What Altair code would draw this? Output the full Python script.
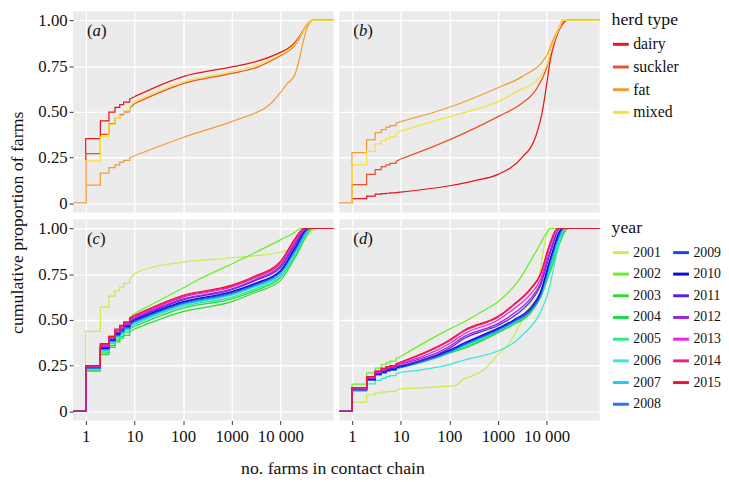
import altair as alt
import pandas as pd

# ---------------- data ----------------
XMIN, XMAX = 0.55, 123000          # panel limits (log axis)
STEP_X = [1, 2, 3, 4, 5, 6, 8]     # integer jumps of the ECDF at small x
X_TICKS = [1, 10, 100, 1000, 10000]
Y_TICKS = [0, 0.25, 0.5, 0.75, 1.0]

herd_types = ["dairy", "suckler", "fat", "mixed"]
herd_colors = ["#E4171E", "#EC5226", "#F19D33", "#F5E23C"]

years = [str(y) for y in range(2001, 2016)]
year_colors = ["#C6EE4C", "#6AEE24", "#30DC30", "#1EDA48", "#2EEA8A", "#34E8D4",
               "#22C8F0", "#2278EC", "#2244DC", "#0A0ADC", "#5A22DC", "#9C22DC",
               "#EC22DC", "#EC2288", "#EC1436"]

# panel (a): (steps, smooth x, smooth y)
a_dairy = ([.354, .451, .498, .525, .54, .553, .57],
           [10, 100, 1000, 3400, 10000, 15000, 20000, 25000, 30000, 37000, 45000],
           [.583, .693, .746, .777, .825, .85, .88, .915, .95, .985, 1.0])
a_suckler = ([.272, .377, .435, .465, .485, .50, .52],
             [10, 100, 1000, 3400, 10000, 15000, 20000, 25000, 30000, 37000, 45000],
             [.544, .654, .71, .745, .807, .835, .865, .905, .945, .985, 1.0])
a_fat = ([.10, .165, .195, .21, .225, .235, .248],
         [10, 100, 1000, 3400, 4600, 6300, 10000, 13700, 19600, 23600, 29000, 35000, 47000],
         [.26, .36, .447, .50, .517, .544, .605, .653, .70, .77, .877, .955, 1.0])
a_mixed = ([.232, .365, .43, .465, .49, .505, .525],
           [10, 100, 1000, 3400, 10000, 15000, 20000, 25000, 30000, 37000, 45000],
           [.556, .663, .72, .757, .813, .84, .87, .91, .947, .985, 1.0])

# panel (b)
b_dairy = ([.026, .039, .05, .053, .055, .057, .059],
           [10, 100, 320, 1000, 3000, 6000, 8000, 10000, 12000, 15000, 20000, 27000],
           [.061, .096, .123, .158, .246, .368, .49, .65, .79, .89, .97, 1.0])
b_suckler = ([.102, .158, .184, .20, .21, .218, .228],
             [10, 100, 1000, 3000, 6000, 10000, 13800, 18700, 25000],
             [.242, .347, .474, .544, .62, .74, .88, .965, 1.0])
b_fat = ([.277, .347, .386, .403, .417, .425, .437],
         [10, 100, 1000, 3000, 10000, 13800, 18700, 21000],
         [.447, .525, .632, .69, .807, .90, .97, 1.0])
b_mixed = ([.21, .284, .325, .342, .354, .363, .38],
           [10, 100, 1000, 3000, 6000, 10000, 13800, 18700, 22000],
           [.395, .474, .556, .623, .667, .754, .88, .965, 1.0])

# panel (c): by year
c_x = [10, 100, 1000, 3000, 10000, 20000]
c_steps = {
    "2003": [.22, .31, .35, .38, .40, .415, .435],
    "2004": [.225, .32, .36, .39, .41, .43, .45],
    "2005": [.23, .33, .37, .40, .42, .44, .46],
    "2006": [.23, .33, .375, .405, .425, .445, .465],
    "2007": [.235, .335, .38, .41, .43, .45, .47],
    "2008": [.235, .34, .385, .415, .435, .455, .475],
    "2009": [.24, .345, .39, .42, .44, .46, .48],
    "2010": [.24, .345, .39, .425, .445, .465, .485],
    "2011": [.24, .35, .395, .43, .45, .47, .49],
    "2012": [.245, .355, .40, .435, .455, .475, .495],
    "2013": [.245, .36, .405, .44, .46, .48, .50],
    "2014": [.25, .365, .41, .445, .465, .485, .505],
    "2015": [.25, .37, .41, .45, .47, .49, .51],
}
c_vals = {
    "2003": [.45, .545, .60, .65, .715, .84],
    "2004": [.465, .565, .615, .66, .73, .85],
    "2005": [.475, .575, .625, .67, .735, .855],
    "2006": [.48, .58, .635, .68, .74, .86],
    "2007": [.485, .585, .64, .685, .75, .87],
    "2008": [.49, .59, .645, .69, .76, .88],
    "2009": [.495, .595, .65, .695, .765, .89],
    "2010": [.50, .60, .655, .70, .77, .895],
    "2011": [.505, .61, .665, .715, .785, .91],
    "2012": [.51, .615, .67, .72, .795, .92],
    "2013": [.515, .625, .68, .73, .805, .93],
    "2014": [.52, .63, .685, .735, .815, .94],
    "2015": [.525, .635, .69, .74, .82, .945],
}
c_end = {"2003": 48000, "2004": 45000, "2005": 42000, "2006": 46000, "2007": 44000,
         "2008": 40000, "2009": 38000, "2010": 37000, "2011": 35000, "2012": 34000,
         "2013": 32000, "2014": 31000, "2015": 30000}
c_2001 = ([.437, .57, .63, .66, .68, .70, .72],
          [10, 20, 100, 1000, 10000, 18700, 30000, 40000, 55000],
          [.755, .784, .816, .84, .87, .893, .93, .97, 1.0])
c_2002 = ([.23, .34, .39, .43, .46, .48, .51],
          [10, 100, 200, 1000, 10000, 20000, 26000],
          [.535, .675, .718, .806, .938, .98, 1.0])

# panel (d)
d_x = [10, 100, 205, 1000, 2100, 4600, 7400, 11700]
d_steps = {
    "2003": [.13, .18, .21, .22, .227, .232, .24],
    "2004": [.125, .178, .207, .217, .225, .23, .237],
    "2005": [.12, .175, .205, .215, .222, .228, .235],
    "2007": [.115, .17, .20, .21, .22, .225, .235],
    "2008": [.115, .17, .20, .21, .22, .225, .235],
    "2009": [.12, .175, .205, .215, .225, .23, .24],
    "2010": [.12, .175, .205, .215, .225, .23, .24],
    "2011": [.12, .18, .21, .22, .23, .235, .245],
    "2012": [.125, .18, .21, .225, .235, .24, .25],
    "2013": [.125, .185, .215, .23, .24, .245, .255],
    "2014": [.13, .19, .22, .235, .245, .25, .26],
    "2015": [.13, .19, .22, .235, .245, .25, .26],
}
d_vals = {
    "2003": [.245, .318, .345, .43, .475, .535, .62, .76],
    "2004": [.242, .32, .348, .433, .477, .54, .626, .767],
    "2005": [.24, .322, .352, .438, .48, .545, .63, .775],
    "2007": [.238, .32, .36, .44, .485, .545, .625, .79],
    "2008": [.24, .325, .365, .445, .49, .55, .63, .81],
    "2009": [.243, .33, .37, .45, .495, .555, .64, .82],
    "2010": [.245, .335, .375, .455, .50, .565, .65, .83],
    "2011": [.25, .345, .40, .47, .52, .60, .685, .86],
    "2012": [.258, .355, .41, .48, .535, .615, .70, .875],
    "2013": [.262, .37, .425, .50, .56, .64, .72, .90],
    "2014": [.268, .385, .44, .515, .58, .665, .745, .915],
    "2015": [.27, .39, .445, .52, .585, .67, .75, .92],
}
d_end = {"2003": 28000, "2004": 27000, "2005": 26000, "2007": 24000, "2008": 23000,
         "2009": 22000, "2010": 21000, "2011": 19000, "2012": 18500, "2013": 17500,
         "2014": 17000, "2015": 16500}
d_2001 = ([.051, .091, .10, .105, .108, .11, .115],
          [10, 100, 126, 205, 320, 500, 1000, 1600, 2500, 4600, 6800, 8700, 11000],
          [.123, .138, .14, .179, .197, .225, .31, .363, .45, .582, .714, .89, 1.0])
d_2002 = ([.149, .21, .237, .255, .265, .275, .29],
          [10, 100, 205, 500, 1000, 2900, 4600, 7400, 10000, 12500],
          [.30, .45, .49, .55, .60, .73, .82, .915, .977, 1.0])
d_2006 = ([.11, .15, .17, .18, .19, .195, .205],
          [10, 100, 205, 1000, 2100, 3400, 7400, 11000, 13800, 17400, 22000],
          [.214, .256, .281, .33, .375, .425, .54, .66, .78, .90, 1.0])


# ---------------- build tables ----------------
def curve(series, spec):
    """Step part (drawn linear with vertical jumps) and smooth part (monotone)."""
    steps, xs, ys = spec
    step_pts = [(XMIN, 0.0)]
    prev = 0.0
    for sx, sy in zip(STEP_X, steps):
        step_pts += [(sx, prev), (sx, sy)]
        prev = sy
    step_pts.append((xs[0], ys[0]))
    smooth_pts = list(zip(xs, ys)) + [(XMAX, 1.0)]
    s_rows = [dict(s=series, x=x, y=y, i=k) for k, (x, y) in enumerate(step_pts)]
    m_rows = [dict(s=series, x=x, y=y, i=k) for k, (x, y) in enumerate(smooth_pts)]
    return s_rows, m_rows


def tables(items):
    s_all, m_all = [], []
    for name, spec in items:
        s, m = curve(name, spec)
        s_all += s
        m_all += m
    return pd.DataFrame(s_all), pd.DataFrame(m_all)


tab_a = tables(zip(herd_types, [a_dairy, a_suckler, a_fat, a_mixed]))
tab_b = tables(zip(herd_types, [b_dairy, b_suckler, b_fat, b_mixed]))

items_c = [("2001", c_2001), ("2002", c_2002)]
for y in years[2:]:
    items_c.append((y, (c_steps[y], c_x + [c_end[y]], c_vals[y] + [1.0])))
tab_c = tables(items_c)

items_d = [("2001", d_2001), ("2002", d_2002)]
for y in years[2:]:
    if y == "2006":
        items_d.append((y, d_2006))
    else:
        items_d.append((y, (d_steps[y], d_x + [d_end[y]], d_vals[y] + [1.0])))
tab_d = tables(items_d)

# ---------------- chart ----------------
W, H = 264, 204
FONT = "Liberation Serif"
TXT = "#111111"

xscale = alt.Scale(type="log", domain=[XMIN, XMAX], nice=False)
yscale = alt.Scale(domain=[-0.05, 1.05], nice=False, zero=False)

herd_scale = alt.Scale(domain=herd_types, range=herd_colors)
year_scale = alt.Scale(domain=years, range=year_colors)

legend_common = dict(symbolType="stroke", symbolStrokeWidth=3, symbolSize=256, offset=12,
                     padding=0, rowPadding=5, labelOffset=3, titleFontSize=18,
                     labelFont=FONT, titleFont=FONT, titleFontWeight="normal",
                     labelColor=TXT, titleColor=TXT, titlePadding=6)
herd_legend = alt.Legend(title="herd type", labelFontSize=16, **legend_common)
year_legend = alt.Legend(title="year", columns=2, columnPadding=6, labelFontSize=14,
                         **legend_common)

letter_w = {"a": 8.5, "b": 8.5, "c": 7.6, "d": 8.5}


def panel(tab, field_title, scale, legend, letter, bottom, left, titles=False):
    if bottom:
        extra = {}
        if titles:
            extra = {"titleX": W - 1, "titleY": 54, "titleAlign": "center",
                     "titleBaseline": "alphabetic"}
        xaxis = alt.Axis(values=X_TICKS, grid=True, labels=True, ticks=True, labelPadding=4,
                         labelExpr="datum.value >= 10000 ? '10 000' : format(datum.value, 'd')",
                         title="no. farms in contact chain" if titles else None, **extra)
    else:
        xaxis = alt.Axis(values=X_TICKS, grid=True, labels=False, ticks=False, title=None)
    if left:
        extra = {}
        if titles:
            extra = {"titleX": -47, "titleY": 3, "titleAlign": "center", "titleAngle": 270}
        yaxis = alt.Axis(values=Y_TICKS, grid=True, labels=True, ticks=True, labelPadding=2,
                         labelExpr="datum.value == 0 ? '0' : format(datum.value, '.2f')",
                         title="cumulative proportion of farms" if titles else None, **extra)
    else:
        yaxis = alt.Axis(values=Y_TICKS, grid=True, labels=False, ticks=False, title=None)

    enc = dict(
        x=alt.X("x:Q", scale=xscale, axis=xaxis),
        y=alt.Y("y:Q", scale=yscale, axis=yaxis),
        color=alt.Color("s:N", scale=scale, legend=legend, title=field_title),
        order=alt.Order("i:Q"),
    )
    step_df, smooth_df = tab
    steps = alt.Chart(step_df).mark_line(strokeWidth=1.25, clip=True).encode(**enc)
    smooth = alt.Chart(smooth_df).mark_line(strokeWidth=1.25, clip=True,
                                            interpolate="monotone").encode(**enc)
    lw = letter_w[letter]
    t1 = alt.Chart().mark_text(text="(", align="left", baseline="alphabetic", fontSize=17,
                               font=FONT, color=TXT).encode(x=alt.value(14), y=alt.value(25))
    t2 = alt.Chart().mark_text(text=letter, align="left", baseline="alphabetic", fontSize=17,
                               font=FONT, fontStyle="italic", color=TXT).encode(
        x=alt.value(19.8), y=alt.value(25))
    t3 = alt.Chart().mark_text(text=")", align="left", baseline="alphabetic", fontSize=17,
                               font=FONT, color=TXT).encode(
        x=alt.value(19.8 + lw), y=alt.value(25))
    return alt.layer(steps, smooth, t1, t2, t3).properties(width=W, height=H)


pa = panel(tab_a, "herd type", herd_scale, None, "a", bottom=False, left=True)
pb = panel(tab_b, "herd type", herd_scale, herd_legend, "b", bottom=False, left=False)
pc = panel(tab_c, "year", year_scale, None, "c", bottom=True, left=True, titles=True)
pd_ = panel(tab_d, "year", year_scale, year_legend, "d", bottom=True, left=False)

chart = alt.concat(pa, pb, pc, pd_, columns=2, spacing={"row": 7, "column": 6},
                   bounds="flush").resolve_scale(
    color="independent"
).properties(
    padding={"left": 0, "top": 0, "right": 0, "bottom": 0}
).configure_view(
    fill="#EBEBEB", strokeWidth=0
).configure_axis(
    gridColor="#FFFFFF", gridWidth=1.4, domain=False, tickColor="#333333",
    tickSize=4, tickWidth=1, labelFont=FONT, labelFontSize=17, labelColor=TXT,
    titleFont=FONT, titleFontSize=18, titleFontWeight="normal", titleColor=TXT
)

chart.save("out.html", embed_options={"renderer": "svg", "actions": False})
